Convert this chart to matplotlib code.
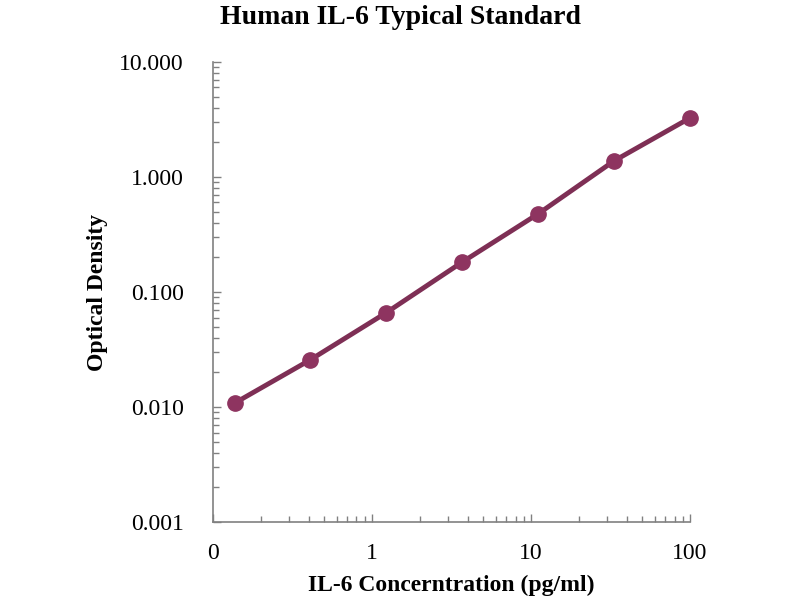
import matplotlib
matplotlib.use("Agg")
import matplotlib.pyplot as plt
from matplotlib.ticker import FixedLocator, LogLocator, NullFormatter

concentration = [0.137, 0.41, 1.23, 3.7, 11.1, 33.3, 100.0]
optical_density = [0.0108, 0.0257, 0.066, 0.182, 0.478, 1.38, 3.26]
x_ticks = [0.1, 1, 10, 100]
x_tick_labels = ["0", "1", "10", "100"]
y_ticks = [0.001, 0.01, 0.1, 1, 10]
y_tick_labels = ["0.001", "0.010", "0.100", "1.000", "10.000"]

plt.rcParams['font.family'] = ['Liberation Serif', 'DejaVu Serif']

fig = plt.figure(figsize=(8, 6), dpi=100)
ax = fig.add_axes([0.266, 0.13, 0.5965, 0.7667])

color = '#8E3460'
ax.plot(concentration, optical_density, color='#7E2F55', linewidth=3.5,
        marker='o', markersize=11, markerfacecolor=color, markeredgecolor=color,
        solid_capstyle='round', clip_on=False, zorder=3)

ax.set_xscale('log')
ax.set_yscale('log')
ax.set_xlim(0.1, 100)
ax.set_ylim(0.001, 10)

ax.xaxis.set_major_locator(FixedLocator(x_ticks))
ax.set_xticklabels(x_tick_labels)
ax.yaxis.set_major_locator(FixedLocator(y_ticks))
ax.set_yticklabels(y_tick_labels)
ax.xaxis.set_minor_locator(LogLocator(base=10, subs=range(2, 10)))
ax.yaxis.set_minor_locator(LogLocator(base=10, subs=range(2, 10)))
ax.xaxis.set_minor_formatter(NullFormatter())
ax.yaxis.set_minor_formatter(NullFormatter())

for s in ['top', 'right']:
    ax.spines[s].set_visible(False)
for s in ['left', 'bottom']:
    ax.spines[s].set_color('#808080')
    ax.spines[s].set_linewidth(1.2)

ax.tick_params(axis='both', which='major', direction='in', length=6, width=1,
               color='#808080', labelsize=17)
ax.tick_params(axis='both', which='minor', direction='in', length=4, width=1,
               color='#808080')
ax.tick_params(axis='x', which='major', pad=15)
ax.tick_params(axis='y', which='major', pad=21)

ax.set_xlabel('IL-6 Concerntration (pg/ml)', fontsize=17, fontweight='bold', va='center')
ax.set_ylabel('Optical Density', fontsize=17, fontweight='bold', va='center')
ax.xaxis.set_label_coords(0.5, -0.137)
ax.yaxis.set_label_coords(-0.241, 0.5)
fig.text(0.5, 0.97, 'Human IL-6 Typical Standard', ha='center', va='center',
         fontsize=20, fontweight='bold')

fig.savefig('out.png', dpi=100)
